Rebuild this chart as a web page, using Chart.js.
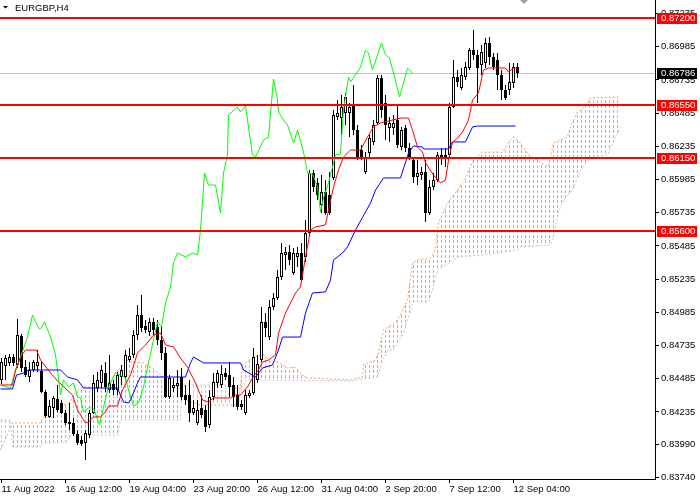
<!DOCTYPE html>
<html>
<head>
<meta charset="utf-8">
<script src="https://cdn.jsdelivr.net/npm/chart.js@4.4.0/dist/chart.umd.min.js"></script>
<style>
  html, body { margin: 0; padding: 0; background: #fff; }
  #wrap { width: 700px; height: 500px; }
</style>
</head>
<body>
<div id="wrap"><canvas id="chart" width="700" height="500"></canvas></div>
<script>
const symbol = 'EURGBP,H4';

// H4 candles, 11 Aug 2022 20:00 .. 12 Sep 2022 08:00
const open = [0.84476,0.84581,0.84604,0.84649,0.84589,0.84807,0.84573,0.84498,0.84551,0.84581,
  0.84543,0.84385,0.84197,0.84265,0.84333,0.84302,0.84227,0.84144,0.84152,0.84069,
  0.84024,0.84001,0.84061,0.84227,0.84415,0.84453,0.84528,0.84400,0.84445,0.84400,
  0.84498,0.84498,0.84626,0.84664,0.84814,0.84965,0.84882,0.84837,0.84912,0.84875,
  0.84777,0.84679,0.84348,0.84415,0.84430,0.84498,0.84363,0.84363,0.84227,0.84152,
  0.84265,0.84250,0.84137,0.84348,0.84453,0.84438,0.84528,0.84513,0.84438,0.84363,
  0.84295,0.84227,0.84355,0.84378,0.84476,0.84626,0.84912,0.84799,0.85025,0.85093,
  0.85251,0.85417,0.85439,0.85281,0.85402,0.85432,0.85402,0.85582,0.86034,0.85959,
  0.85793,0.85891,0.85869,0.85997,0.86456,0.86448,0.86486,0.86486,0.86546,0.86358,
  0.86207,0.86042,0.86185,0.86268,0.86411,0.86750,0.86561,0.86373,0.86373,0.86433,
  0.86230,0.86373,0.86223,0.86132,0.86004,0.86019,0.86042,0.85733,0.85929,0.85982,
  0.86155,0.86170,0.86170,0.86531,0.86757,0.86674,0.86757,0.86825,0.86960,0.86923,
  0.86848,0.86863,0.87013,0.86908,0.86885,0.86772,0.86659,0.86659,0.86712,0.86832];
const high = [0.84641,0.84664,0.84671,0.84671,0.84935,0.84822,0.84626,0.84611,0.84626,0.84701,
  0.84611,0.84400,0.84325,0.84355,0.84438,0.84325,0.84250,0.84302,0.84189,0.84099,
  0.84054,0.84099,0.84250,0.84513,0.84536,0.84589,0.84611,0.84664,0.84476,0.84536,
  0.84589,0.84701,0.84717,0.84852,0.85040,0.85116,0.84927,0.84942,0.84942,0.84927,
  0.84875,0.84724,0.84513,0.84491,0.84551,0.84566,0.84438,0.84476,0.84325,0.84325,
  0.84363,0.84287,0.84400,0.84528,0.84551,0.84589,0.84566,0.84611,0.84498,0.84438,
  0.84325,0.84400,0.84400,0.84717,0.84664,0.85025,0.84980,0.85078,0.85131,0.85304,
  0.85507,0.85477,0.85492,0.85470,0.85477,0.85507,0.85680,0.86057,0.86057,0.85997,
  0.86019,0.85982,0.86042,0.86509,0.86584,0.86622,0.86637,0.86561,0.86697,0.86396,
  0.86245,0.86192,0.86320,0.86433,0.86772,0.86772,0.86622,0.86456,0.86471,0.86546,
  0.86381,0.86396,0.86260,0.86155,0.86132,0.86079,0.86132,0.85982,0.86034,0.86192,
  0.86223,0.86223,0.86561,0.86885,0.86810,0.86825,0.86870,0.86976,0.87111,0.86960,
  0.86998,0.87051,0.87058,0.86938,0.86938,0.86810,0.86697,0.86863,0.86863,0.86863];
const low = [0.84445,0.84476,0.84581,0.84581,0.84566,0.84536,0.84498,0.84461,0.84536,0.84536,
  0.84378,0.84189,0.84189,0.84189,0.84235,0.84220,0.84137,0.84099,0.84054,0.83986,
  0.83979,0.83873,0.84039,0.84220,0.84385,0.84415,0.84385,0.84378,0.84363,0.84363,
  0.84438,0.84476,0.84611,0.84641,0.84777,0.84837,0.84829,0.84807,0.84814,0.84739,
  0.84626,0.84340,0.84333,0.84385,0.84348,0.84325,0.84287,0.84159,0.84212,0.84137,
  0.84189,0.84084,0.84114,0.84325,0.84415,0.84415,0.84476,0.84348,0.84272,0.84250,
  0.84250,0.84212,0.84340,0.84363,0.84453,0.84611,0.84799,0.84777,0.85003,0.85078,
  0.85229,0.85304,0.85342,0.85266,0.85327,0.85214,0.85364,0.85552,0.85891,0.85831,
  0.85733,0.85718,0.85718,0.85982,0.86433,0.86320,0.86396,0.86305,0.86320,0.86132,
  0.86132,0.86027,0.86155,0.86245,0.86396,0.86448,0.86283,0.86268,0.86320,0.86223,
  0.86207,0.86192,0.86132,0.85959,0.85944,0.85982,0.85665,0.85718,0.85906,0.85966,
  0.86095,0.86079,0.86147,0.86524,0.86682,0.86659,0.86735,0.86810,0.86885,0.86561,
  0.86772,0.86825,0.86848,0.86810,0.86659,0.86584,0.86584,0.86622,0.86674,0.86750];
const close = [0.84611,0.84641,0.84649,0.84604,0.84814,0.84566,0.84513,0.84551,0.84611,0.84611,
  0.84385,0.84204,0.84280,0.84340,0.84250,0.84227,0.84152,0.84159,0.84069,0.84001,
  0.83994,0.84076,0.84227,0.84453,0.84476,0.84551,0.84423,0.84453,0.84400,0.84513,
  0.84551,0.84664,0.84656,0.84814,0.84965,0.84867,0.84852,0.84912,0.84852,0.84777,
  0.84679,0.84348,0.84491,0.84438,0.84453,0.84348,0.84325,0.84227,0.84265,0.84250,
  0.84212,0.84122,0.84348,0.84461,0.84528,0.84521,0.84498,0.84423,0.84348,0.84272,
  0.84272,0.84363,0.84378,0.84649,0.84596,0.84912,0.84867,0.85025,0.85093,0.85251,
  0.85432,0.85439,0.85379,0.85432,0.85432,0.85229,0.85582,0.86034,0.85929,0.85869,
  0.85891,0.85733,0.85733,0.86471,0.86486,0.86531,0.86607,0.86531,0.86358,0.86155,
  0.86155,0.86155,0.86298,0.86396,0.86750,0.86509,0.86396,0.86411,0.86411,0.86245,
  0.86358,0.86223,0.86155,0.86004,0.86034,0.86042,0.85733,0.85929,0.85982,0.86170,
  0.86170,0.86147,0.86531,0.86757,0.86720,0.86772,0.86832,0.86960,0.86923,0.86825,
  0.86945,0.87013,0.86908,0.86832,0.86772,0.86659,0.86599,0.86720,0.86832,0.86786];

// Ichimoku lines as [bar index, price] vertices
const tenkan = [[-0.25,0.84438],[2.75,0.84438],[3.5,0.84551],[4.75,0.84649],[6,0.84701],[8.75,0.84701],[9.75,0.84626],[12.25,0.84528],[14.25,0.84461],[17.75,0.84363],[19,0.84250],[21,0.84152],[21.75,0.84159],[23,0.84197],[24.75,0.84197],[26,0.84235],[26.75,0.84280],[29,0.84280],[30.25,0.84400],[32.25,0.84513],[34,0.84679],[36,0.84739],[38,0.84814],[39.75,0.84829],[41,0.84739],[43,0.84724],[44.75,0.84641],[46.5,0.84573],[48.5,0.84453],[50.25,0.84325],[51.75,0.84310],[53,0.84340],[57.25,0.84340],[58.5,0.84363],[59.75,0.84363],[61.5,0.84423],[62.75,0.84491],[64.25,0.84551],[65.25,0.84611],[66.75,0.84626],[68.5,0.84664],[69.25,0.84829],[71,0.84980],[73.5,0.85131],[74.75,0.85176],[76,0.85402],[77.25,0.85605],[78.5,0.85628],[81,0.85643],[81.75,0.85756],[83,0.85929],[84.25,0.86057],[85.5,0.86155],[87.25,0.86207],[89.75,0.86207],[91.5,0.86305],[93,0.86381],[94.75,0.86411],[99.75,0.86448],[101.75,0.86448],[102.75,0.86358],[104,0.86230],[105.25,0.86192],[106,0.86110],[108,0.86019],[109.75,0.85959],[111,0.85982],[111.75,0.86132],[112.75,0.86268],[114,0.86298],[115.25,0.86343],[116.75,0.86433],[117.75,0.86584],[119.25,0.86637],[120.5,0.86810],[121.75,0.86825],[126,0.86825],[126.75,0.86795],[128,0.86825],[129,0.86825]];
const kijun = [[-0.25,0.84408],[2.75,0.84408],[3.75,0.84513],[5.5,0.84528],[6.75,0.84551],[14.75,0.84551],[16.5,0.84498],[19,0.84476],[20.5,0.84415],[29,0.84415],[30.5,0.84310],[31.75,0.84302],[32.25,0.84325],[34,0.84453],[34.75,0.84498],[46,0.84498],[47.25,0.84604],[48,0.84649],[50.5,0.84604],[59.75,0.84604],[60.5,0.84551],[63.5,0.84498],[65.25,0.84566],[67.75,0.84589],[69.25,0.84701],[70.25,0.84799],[74.75,0.84799],[76,0.84980],[77.75,0.85131],[81,0.85139],[82.25,0.85229],[83,0.85379],[85.25,0.85432],[86.5,0.85477],[88.5,0.85605],[91,0.85741],[92.25,0.85808],[93.5,0.85906],[95.5,0.85997],[99.75,0.85997],[101.75,0.86185],[103,0.86238],[105.25,0.86230],[105.5,0.86215],[111.75,0.86215],[112.75,0.86268],[116,0.86268],[117.75,0.86381],[119,0.86388],[128.5,0.86388]];
const chikou = [[-0.25,0.84438],[2.25,0.84415],[3,0.84498],[4.75,0.84649],[6.5,0.84799],[7.75,0.84965],[9.25,0.84867],[9.75,0.84860],[10.75,0.84912],[12.25,0.84799],[13.5,0.84664],[14.25,0.84491],[14.75,0.84363],[15.5,0.84476],[16.75,0.84423],[18,0.84453],[19,0.84348],[19.75,0.84340],[20.5,0.84235],[21.75,0.84265],[23,0.84265],[24.5,0.84137],[25.5,0.84272],[26.75,0.84423],[28.5,0.84528],[29.75,0.84513],[31,0.84491],[31.75,0.84400],[33,0.84280],[34.25,0.84302],[35.5,0.84423],[36.75,0.84604],[38,0.84777],[39,0.84912],[40,0.84875],[41,0.85055],[42.25,0.85176],[43,0.85357],[44,0.85432],[46,0.85402],[47.75,0.85432],[49,0.85417],[49.75,0.85605],[50.75,0.86034],[51.75,0.85944],[53.5,0.85944],[54.75,0.85733],[55.5,0.86034],[56.5,0.86170],[56.75,0.86471],[59,0.86531],[59.75,0.86493],[61,0.86539],[61.75,0.86381],[62.75,0.86170],[63.5,0.86155],[65.5,0.86283],[66.75,0.86305],[68,0.86742],[69,0.86584],[69.25,0.86493],[70.5,0.86433],[71.5,0.86396],[73,0.86260],[74,0.86358],[75.5,0.86192],[76.5,0.86034],[77.75,0.86027],[79,0.85929],[79.75,0.85741],[80.5,0.85846],[81.75,0.85959],[82.75,0.86079],[83.5,0.86170],[84.75,0.86177],[85.5,0.86509],[86.75,0.86757],[87.25,0.86720],[88.5,0.86772],[89.75,0.86832],[91,0.86960],[91.75,0.86938],[92.75,0.86810],[94,0.86923],[95,0.87013],[96,0.86923],[97,0.86900],[98,0.86787],[99.5,0.86607],[100.5,0.86712],[101.5,0.86825],[102.75,0.86787]];
const spanA = [[-0.25,0.83949],[2.75,0.84152],[9.75,0.84152],[10.5,0.84197],[12.25,0.84227],[14.25,0.84272],[16.75,0.84302],[19.25,0.84400],[20.5,0.84423],[26.5,0.84423],[28.5,0.84528],[31.5,0.84626],[33,0.84611],[35.5,0.84604],[37.75,0.84566],[39.75,0.84513],[42.75,0.84453],[44.25,0.84415],[46,0.84325],[49.75,0.84287],[59.25,0.84287],[60.25,0.84589],[63,0.84649],[65.5,0.84664],[67.25,0.84611],[69,0.84611],[71.5,0.84566],[73.5,0.84573],[75.25,0.84513],[76.5,0.84491],[87.25,0.84476],[90.25,0.84498],[90.5,0.84589],[93.5,0.84626],[94.25,0.84679],[95.5,0.84852],[98.5,0.84912],[99.75,0.84965],[101.5,0.85078],[102.75,0.85357],[104,0.85379],[107.25,0.85394],[108.5,0.85455],[109.25,0.85658],[111.5,0.85808],[114,0.85906],[116,0.85997],[118,0.86132],[120.25,0.86192],[125.25,0.86192],[127.25,0.86283],[128,0.86305],[129.75,0.86260],[131.75,0.86170],[134.75,0.86117],[136.5,0.86079],[137.25,0.86155],[138,0.86260],[141.5,0.86305],[142.25,0.86381],[144,0.86493],[146,0.86531],[147.25,0.86599],[154.75,0.86607]];
const spanB = [[-0.25,0.84174],[2.25,0.84174],[2.75,0.83971],[9.75,0.83971],[10.5,0.84001],[16.5,0.84009],[17.25,0.84061],[29,0.84061],[29.75,0.84174],[44.75,0.84174],[45.25,0.84438],[56.5,0.84438],[59.75,0.84400],[61,0.84476],[87.25,0.84468],[94,0.84498],[95.25,0.84626],[96.75,0.84701],[98,0.84701],[100.5,0.84829],[101.75,0.84950],[103,0.85063],[106.75,0.85063],[107.75,0.85153],[109,0.85304],[112.25,0.85364],[114.25,0.85402],[120.5,0.85417],[129,0.85455],[129.75,0.85477],[137.25,0.85492],[138,0.85552],[139.25,0.85741],[140.5,0.85831],[142.75,0.85906],[144.75,0.86057],[147.25,0.86155],[151.5,0.86170],[152.25,0.86223],[154,0.86335],[154.75,0.86381]];

const levels = [0.87200, 0.86550, 0.86150, 0.85600];
const lastPrice = 0.86786;
const priceTicks = [0.87235, 0.86985, 0.86735, 0.86485, 0.86235, 0.85985, 0.85735, 0.85485,
  0.85235, 0.84985, 0.84735, 0.84485, 0.84235, 0.83990, 0.83740];
const timeTicks = [0, 16, 32, 48, 64, 80, 96, 112, 128];
const timeLabels = ['11 Aug 2022', '16 Aug 12:00', '19 Aug 04:00', '23 Aug 20:00', '26 Aug 12:00',
  '31 Aug 04:00', '2 Sep 20:00', '7 Sep 12:00', '12 Sep 04:00'];

const FONT = 'Liberation Sans';
const CLOUD_UP = '#f4a460';
const CLOUD_DOWN = '#d8bfd8';

const toXY = pts => pts.map(([x, y]) => ({x, y}));
const bars = close.map((_, i) => i);

// opaque white page under everything
const paper = {
  id: 'paper',
  beforeDraw(chart) {
    const {ctx, width, height} = chart;
    ctx.save();
    ctx.fillStyle = '#fff';
    ctx.fillRect(0, 0, width, height);
    ctx.restore();
  }
};

// one dotted column per bar between span A and span B, like MT4 does
const cloud = {
  id: 'cloud',
  beforeDatasetsDraw(chart) {
    const {ctx, chartArea: a, scales: {x}} = chart;
    const lineA = chart.getDatasetMeta(0).dataset;
    const lineB = chart.getDatasetMeta(1).dataset;
    const first = Math.ceil(spanA[0][0]);
    const last = Math.floor(spanA[spanA.length - 1][0]);
    ctx.save();
    ctx.beginPath();
    ctx.rect(a.left, a.top, a.width, a.height);
    ctx.clip();
    ctx.lineWidth = 1;
    ctx.setLineDash([3, 2]);
    for (let k = first; k <= last; k++) {
      const px = x.getPixelForValue(k);
      const pa = lineA.interpolate({x: px}, 'x');
      const pb = lineB.interpolate({x: px}, 'x');
      if (!pa || !pb) continue;
      const top = Math.min(pa.y, pb.y);
      const bot = Math.max(pa.y, pb.y);
      ctx.strokeStyle = pa.y <= pb.y ? CLOUD_UP : CLOUD_DOWN;
      ctx.lineDashOffset = top % 5;
      ctx.beginPath();
      ctx.moveTo(px, top);
      ctx.lineTo(px, bot);
      ctx.stroke();
    }
    ctx.restore();
  }
};

const overlay = {
  id: 'overlay',
  beforeDatasetsDraw(chart) {
    const {ctx, chartArea: a, scales: {y}} = chart;
    const py = Math.round(y.getPixelForValue(lastPrice)) + 0.5;
    ctx.save();
    ctx.strokeStyle = '#c0c0c0';
    ctx.lineWidth = 1;
    ctx.beginPath();
    ctx.moveTo(a.left, py);
    ctx.lineTo(a.right, py);
    ctx.stroke();
    ctx.restore();
  },
  afterDatasetsDraw(chart) {
    const {ctx, chartArea: a, scales: {y}} = chart;
    ctx.save();
    ctx.strokeStyle = '#ff0000';
    ctx.lineWidth = 2;
    levels.forEach(l => {
      const py = Math.round(y.getPixelForValue(l));
      ctx.beginPath();
      ctx.moveTo(a.left, py);
      ctx.lineTo(a.right, py);
      ctx.stroke();
    });
    ctx.restore();
  },
  afterDraw(chart) {
    const {ctx, chartArea: a, scales: {x, y}} = chart;
    ctx.save();
    ctx.font = '9.5px "' + FONT + '"';
    ctx.textBaseline = 'middle';
    ctx.textAlign = 'left';
    const tag = (value, bg) => {
      const py = Math.round(y.getPixelForValue(value));
      ctx.fillStyle = bg;
      ctx.fillRect(a.right + 2, py - 5, 40, 11);
      ctx.fillStyle = '#fff';
      ctx.fillText(value.toFixed(5), a.right + 6, py + 0.5);
    };
    levels.forEach(l => tag(l, '#ff0000'));
    tag(lastPrice, '#000');

    // symbol caption
    ctx.fillStyle = '#000';
    ctx.beginPath();
    ctx.moveTo(3, 6); ctx.lineTo(8, 6); ctx.lineTo(5.5, 8.5); ctx.closePath();
    ctx.fill();
    ctx.fillText(symbol, 15, 8);

    // chart shift marker
    const sx = Math.round(x.getPixelForValue(close.length + 0.5));
    ctx.fillStyle = '#a0a0a0';
    ctx.beginPath();
    ctx.moveTo(sx - 4, 0); ctx.lineTo(sx + 4, 0); ctx.lineTo(sx, 4); ctx.closePath();
    ctx.fill();
    ctx.restore();
  }
};

new Chart(document.getElementById('chart'), {
  type: 'line',
  data: {
    datasets: [
      {
        type: 'line', label: 'Senkou A', data: toXY(spanA),
        borderColor: CLOUD_UP, borderWidth: 1, borderDash: [2, 2],
        pointRadius: 0, tension: 0, fill: false, order: 10
      },
      {
        type: 'line', label: 'Senkou B', data: toXY(spanB),
        borderColor: CLOUD_DOWN, borderWidth: 1, borderDash: [2, 2],
        pointRadius: 0, tension: 0, fill: false, order: 9
      },
      {
        type: 'bar', label: 'wicks',
        data: bars.map(i => ({x: i, y: [low[i], high[i]]})),
        backgroundColor: '#000', barThickness: 1, grouped: false,
        inflateAmount: 0, order: 6
      },
      {
        type: 'bar', label: 'bodies',
        data: bars.map(i => ({x: i, y: [open[i], close[i]]})),
        backgroundColor: bars.map(i => close[i] > open[i] ? '#fff' : '#000'),
        borderColor: '#000', borderWidth: 1, borderSkipped: false,
        barThickness: 3, grouped: false, inflateAmount: 0, order: 5
      },
      {
        type: 'line', label: 'Chikou', data: toXY(chikou),
        borderColor: '#00ff00', borderWidth: 1, pointRadius: 0, tension: 0, fill: false, order: 3
      },
      {
        type: 'line', label: 'Kijun', data: toXY(kijun),
        borderColor: '#0000ff', borderWidth: 1, pointRadius: 0, tension: 0, fill: false, order: 2
      },
      {
        type: 'line', label: 'Tenkan', data: toXY(tenkan),
        borderColor: '#ff0000', borderWidth: 1, pointRadius: 0, tension: 0, fill: false, order: 1
      }
    ]
  },
  options: {
    responsive: false,
    animation: false,
    devicePixelRatio: 1,
    layout: {padding: 0},
    plugins: {legend: {display: false}, tooltip: {enabled: false}},
    scales: {
      x: {
        type: 'linear',
        min: -0.375,
        max: 163.375,
        offset: false,
        grid: {display: true, drawOnChartArea: false, drawTicks: true, tickLength: 4, color: '#000', offset: false},
        border: {display: true, color: '#000', width: 1},
        afterBuildTicks: s => { s.ticks = timeTicks.map(v => ({value: v})); },
        afterFit: s => { s.height = 21; s.paddingLeft = 0; s.paddingRight = 0; },
        ticks: {
          autoSkip: false, maxRotation: 0, minRotation: 0, align: 'start', padding: 1,
          color: '#000', font: {family: FONT, size: 9.5},
          callback: (v, i) => timeLabels[i]
        }
      },
      y: {
        type: 'linear',
        position: 'right',
        min: 0.8373,
        max: 0.87337,
        beginAtZero: false,
        grid: {display: true, drawOnChartArea: false, drawTicks: true, tickLength: 4, color: '#000'},
        border: {display: true, color: '#000', width: 1},
        afterBuildTicks: s => { s.ticks = priceTicks.map(v => ({value: v})); },
        afterFit: s => { s.width = 45; s.paddingTop = 0; s.paddingBottom = 0; },
        ticks: {
          padding: 2, color: '#000', font: {family: FONT, size: 9.5},
          callback: v => v.toFixed(5)
        }
      }
    }
  },
  plugins: [paper, cloud, overlay]
});
</script>
</body>
</html>
